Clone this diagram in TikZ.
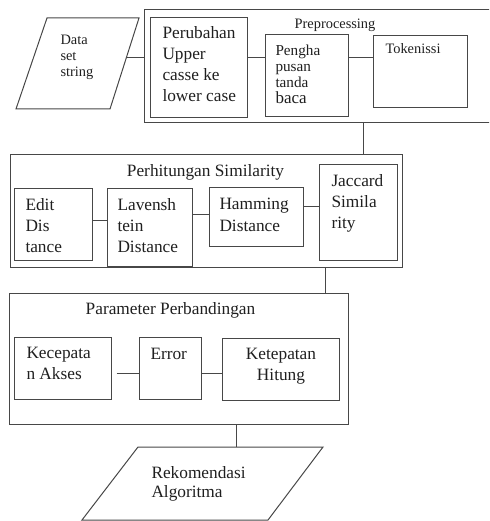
\documentclass[tikz,border=0pt]{standalone}
\usepackage{fontspec}
\setmainfont{Liberation Serif}
\usetikzlibrary{fit}
\begin{document}
\begin{tikzpicture}[x=1pt,y=-1pt,line width=1pt,
  box/.style={draw=black!72,inner sep=0pt},
  link/.style={draw=black!72},
  big/.style={font=\fontsize{17.3}{21}\selectfont,inner sep=0pt,anchor=base west,align=left,text=black!88},
  small/.style={font=\fontsize{14.4}{16}\selectfont,inner sep=0pt,anchor=base west,align=left,text=black!88}]
\useasboundingbox (0,0) rectangle (489,521);
\clip (0,0) rectangle (489,521);

% Data set string
\draw[link] (47,18) -- (139,18) -- (110,109) -- (16,109) -- cycle;
\node[small] (data) at (60,77) {Data\\set\\string};
\coordinate (dsR) at (126,58);

% Preprocessing
\node[box,fit={(144,10) (495,123)}] (pp) {};
\node[small,anchor=base] (pptitle) at (335,29) {Preprocessing};
\node[box,fit={(150,18) (247,118)}] (pb) {};
\node[big] (pbt) at (162,102) {Perubahan\\Upper\\casse ke\\lower case};
\node[box,fit={(265,35) (348,117)}] (ph) {};
\node[small,font=\fontsize{15.2}{16}\selectfont] (pht) at (275,104) {Pengha\\pusan\\tanda\\{\fontsize{17}{17}\selectfont baca}};
\node[box,fit={(373,36) (467,108)}] (tk) {};
\node[small] (tkt) at (385,54) {Tokenissi};

\draw[link] (dsR) -- (dsR -| pp.west);
\draw[link] (pb.east |- 0,58) -- (ph.west |- 0,58);
\draw[link] (ph.east |- 0,58) -- (tk.west |- 0,58);

% Perhitungan Similarity
\node[box,fit={(10,155) (402,267)}] (ps) {};
\node[big,anchor=base] (pstitle) at (205.5,177) {Perhitungan Similarity};
\node[box,fit={(14,189) (92,260)}] (ed) {};
\node[big] (edt) at (25,252) {Edit\\Dis\\tance};
\node[box,fit={(107,189) (192,266)}] (lv) {};
\node[big] (lvt) at (117,252) {Lavensh\\tein\\Distance};
\node[box,fit={(209,188) (303,246)}] (hm) {};
\node[big] (hmt) at (219,231) {Hamming\\Distance};
\node[box,fit={(319,165) (397,260)}] (jc) {};
\node[big,font=\fontsize{17.3}{20.5}\selectfont] (jct) at (331,228) {Jaccard\\Simila\\rity};

\draw[link] (pp.south -| 363,0) -- (ps.north -| 363,0);
\draw[link] (ed.east |- 0,220) -- (lv.west |- 0,220);
\draw[link] (lv.east |- 0,214) -- (hm.west |- 0,214);
\draw[link] (hm.east |- 0,206) -- (jc.west |- 0,206);

% Parameter Perbandingan
\node[box,fit={(9,293) (348,424)}] (pm) {};
\node[big,anchor=base] (pmtitle) at (170.5,314) {Parameter Perbandingan};
\node[box,fit={(14,337) (111,399)}] (kc) {};
\node[big] (kct) at (26,379) {Kecepata\\n Akses};
\node[box,fit={(139,337) (201,399)}] (er) {};
\node[big] (ert) at (150,359) {Error};
\node[box,fit={(222,338) (339,400)}] (kt) {};
\node[big,align=center,anchor=base] (ktt) at (281,380) {Ketepatan\\Hitung};

\draw[link] (ps.south -| 325,0) -- (pm.north -| 325,0);
\draw[link] ([xshift=5pt]kc.east |- 0,373) -- (er.west |- 0,373);
\draw[link] (er.east |- 0,373) -- (kt.west |- 0,373);

% Rekomendasi Algoritma
\draw[link] (138,447) -- (323,447) -- (268,520) -- (82,520) -- cycle;
\coordinate (rkT) at (236,447);
\node[big,font=\fontsize{17.3}{19}\selectfont] (rk) at (151,497) {Rekomendasi\\Algoritma};
\draw[link] (pm.south -| rkT) -- (rkT);
\end{tikzpicture}
\end{document}
